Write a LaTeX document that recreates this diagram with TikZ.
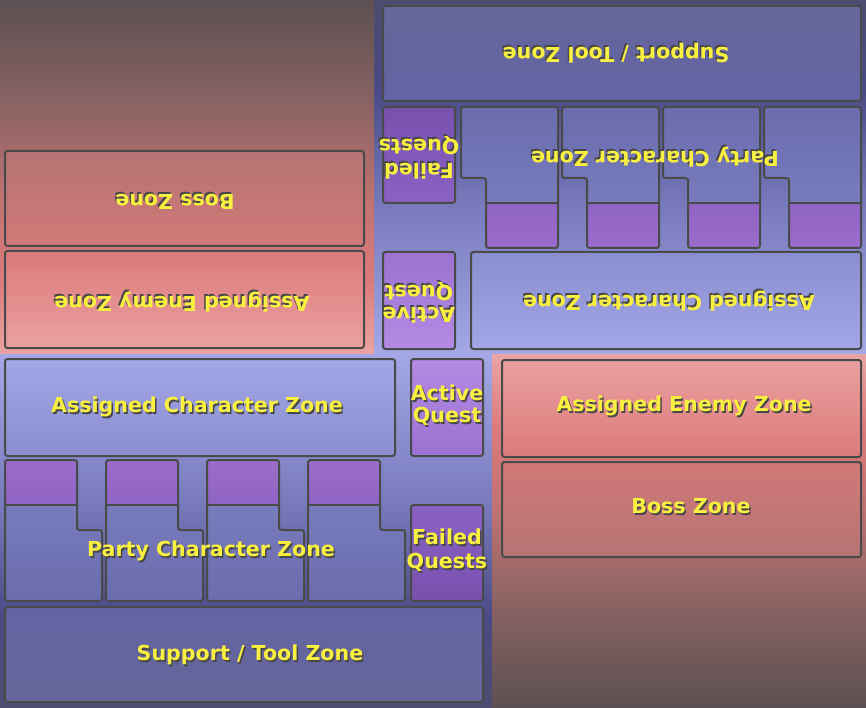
\documentclass[tikz,border=0pt]{standalone}
\usepackage{fontspec}
\newfontfamily\pixfont{DejaVu Sans}
\definecolor{yel}{HTML}{FAF040}
\definecolor{shc}{HTML}{484848}
\definecolor{edge}{HTML}{4A4A4A}
\definecolor{bbA}{HTML}{4C4C70}
\definecolor{bbB}{HTML}{4A4A86}
\definecolor{bbC}{HTML}{7678BA}
\definecolor{bbD}{HTML}{A4A8E6}
\definecolor{rbA}{HTML}{5C5052}
\definecolor{rbB}{HTML}{886262}
\definecolor{rbC}{HTML}{C07272}
\definecolor{rbD}{HTML}{DC7A7A}
\definecolor{rbE}{HTML}{EAA4A4}
\definecolor{aczT}{HTML}{A2A6E6}
\definecolor{aczB}{HTML}{8A8ECE}
\definecolor{aqT}{HTML}{B48AE4}
\definecolor{aqB}{HTML}{9C72D2}
\definecolor{cpT}{HTML}{9A6CCC}
\definecolor{cpB}{HTML}{9064C4}
\definecolor{clT}{HTML}{7E82C4}
\definecolor{clB}{HTML}{6A6CAC}
\definecolor{fqT}{HTML}{8A62C4}
\definecolor{fqB}{HTML}{7850AE}
\definecolor{stT}{HTML}{6264A4}
\definecolor{stB}{HTML}{66669A}
\definecolor{aeT}{HTML}{EAA0A0}
\definecolor{aeM}{HTML}{E07C7C}
\definecolor{aeB}{HTML}{DC7A7A}
\definecolor{bzT}{HTML}{D27878}
\definecolor{bzB}{HTML}{B67474}
\pgfdeclareverticalshading{bgblue}{100bp}{color(0bp)=(bbA); color(25bp)=(bbA); color(37.7bp)=(bbB); color(53.2bp)=(bbC); color(75bp)=(bbD); color(100bp)=(bbD)}
\pgfdeclareverticalshading{bgred}{100bp}{color(0bp)=(rbA); color(25bp)=(rbA); color(39bp)=(rbB); color(53.2bp)=(rbC); color(64.5bp)=(rbD); color(75bp)=(rbE); color(100bp)=(rbE)}
\tikzset{
  zone/.style={draw=edge, line width=2pt, rounded corners=2.5pt},
  divider/.style={draw=edge, line width=2pt},
  lbl/.style={font=\pixfont\bfseries\fontsize{20.6}{22}\selectfont, text=yel, align=center, inner sep=0pt},
}
\newcommand\sh[1]{\rlap{\kern1.5pt\raisebox{-1.5pt}{\textcolor{shc}{#1}}}#1}
\newcommand\partycard[1]{%
  \shade[top color=clT, bottom color=clB, rounded corners=2.5pt] (#1,460) -- ++(72,0) -- ++(0,70) -- ++(25,0) -- ++(0,71) -- ++(-97,0) -- cycle;
  \shade[top color=cpT, bottom color=cpB, rounded corners=2.5pt] (#1,460) rectangle ++(72,45);
  \draw[zone] (#1,460) -- ++(72,0) -- ++(0,70) -- ++(25,0) -- ++(0,71) -- ++(-97,0) -- cycle;
  \draw[divider] (#1,505) -- ++(72,0);
}
\newcommand\halfboard[1]{%
  \shade[shading=bgblue] (0,354) rectangle (492,708);
  \shade[shading=bgred] (492,354) rectangle (866,708);
  \draw[zone, top color=aczT, bottom color=aczB] (5,359) rectangle (395,456);
  \draw[zone, top color=aqT, bottom color=aqB] (411,359) rectangle (483,456);
  \partycard{5}
  \partycard{106}
  \partycard{207}
  \partycard{308}
  \draw[zone, top color=fqT, bottom color=fqB] (411,505) rectangle (483,601);
  \draw[zone, top color=stT, bottom color=stB] (5,607) rectangle (483,702);
  \draw[zone, top color=aeT, middle color=aeM, bottom color=aeB] (502,360) rectangle (861,457);
  \draw[zone, top color=bzT, bottom color=bzB] (502,462) rectangle (861,557);
  \node[lbl] (#1acz) at (197,408) {\sh{Assigned Character Zone}};
  \node[lbl] (#1aq) at (447,406) {\sh{Active}\\\sh{Quest}};
  \node[lbl] (#1pcz) at (211,552) {\sh{Party Character Zone}};
  \node[lbl] (#1fq) at (447,551) {\sh{Failed}\\[2pt]\sh{Quests}};
  \node[lbl] (#1stz) at (250,656) {\sh{Support / Tool Zone}};
  \node[lbl] (#1aez) at (684,407) {\sh{Assigned Enemy Zone}};
  \node[lbl] (#1bz) at (691,507) {\sh{Boss Zone}};
}
\begin{document}
\begin{tikzpicture}[x=1pt,y=-1pt]
\useasboundingbox (0,0) rectangle (866,708);
\begin{scope}[transform canvas={rotate around={180:(433,354)}}]
  \halfboard{t}
\end{scope}
\halfboard{b}
\end{tikzpicture}
\end{document}
